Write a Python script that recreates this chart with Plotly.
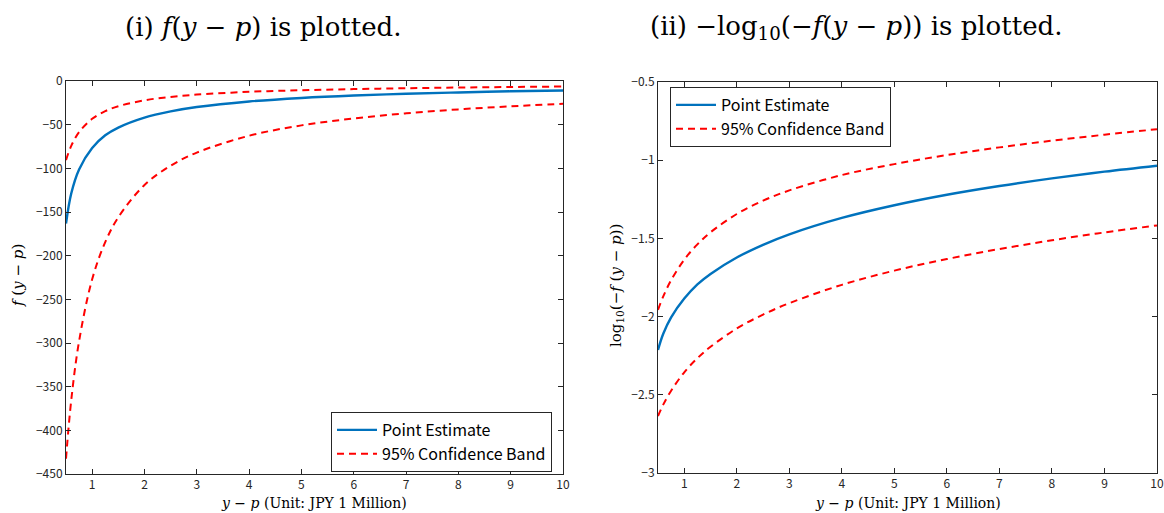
import plotly.graph_objects as go

# ---- data ----
x_vals = [0.5, 0.6, 0.75, 1, 1.25, 1.5, 2, 2.5, 3, 4, 5, 6, 7, 8, 9, 10]

# panel (i): f(y-p)
f_point = [-163.3, -128.8, -101.2, -76.7, -62.2, -53.3, -41.9, -34.8, -29.8, -23.4, -19.4, -16.6, -14.6, -13.1, -11.8, -10.8]
f_upper = [-90.6, -74.3, -58.5, -43.3, -34.5, -28.9, -22.1, -18.2, -15.6, -12.4, -10.6, -9.27, -8.28, -7.50, -6.87, -6.34]
f_lower = [-432.5, -365.6, -297.9, -227.0, -184.5, -156.0, -119.1, -97.0, -82.0, -62.7, -50.8, -42.9, -37.0, -32.5, -29.0, -26.1]

# panel (ii): -log10(-f(y-p))
g_point = [-2.213, -2.110, -2.005, -1.885, -1.794, -1.727, -1.622, -1.541, -1.474, -1.369, -1.288, -1.221, -1.165, -1.116, -1.073, -1.035]
g_upper = [-1.957, -1.871, -1.767, -1.636, -1.538, -1.461, -1.344, -1.259, -1.193, -1.095, -1.025, -0.967, -0.918, -0.875, -0.837, -0.802]
g_lower = [-2.636, -2.563, -2.474, -2.356, -2.266, -2.193, -2.076, -1.987, -1.914, -1.797, -1.706, -1.632, -1.568, -1.512, -1.462, -1.417]

x_ticks = [1, 2, 3, 4, 5, 6, 7, 8, 9, 10]
y1_ticks = [0, -50, -100, -150, -200, -250, -300, -350, -400, -450]
y2_ticks = [-0.5, -1, -1.5, -2, -2.5, -3]

BLUE = "#0072BD"
RED = "#FF0000"
AX = "#262626"
SANS = "Noto Sans CJK JP, Liberation Sans, Arial"
TICKFONT = dict(family=SANS, size=12, color=AX)
SERIF = "DejaVu Serif, Liberation Serif, serif"

fig = go.Figure()

def add_series(xa, ya, legend, yp, yu, yl):
    fig.add_trace(go.Scatter(x=x_vals, y=yp, xaxis=xa, yaxis=ya, mode="lines",
                             line=dict(color=BLUE, width=2.4, shape="spline", smoothing=1),
                             name="Point Estimate", legend=legend))
    fig.add_trace(go.Scatter(x=x_vals, y=yu, xaxis=xa, yaxis=ya, mode="lines",
                             line=dict(color=RED, width=2, dash="7px,5px", shape="spline", smoothing=1),
                             name="95% Confidence Band", legend=legend))
    fig.add_trace(go.Scatter(x=x_vals, y=yl, xaxis=xa, yaxis=ya, mode="lines",
                             line=dict(color=RED, width=2, dash="7px,5px", shape="spline", smoothing=1),
                             name="95% Confidence Band", legend=legend, showlegend=False))

add_series("x", "y", "legend", f_point, f_upper, f_lower)
add_series("x2", "y2", "legend2", g_point, g_upper, g_lower)

W, H = 1164, 513
def dom_x(a, b):
    return [a / W, b / W]
def dom_y(top, bottom):
    return [(H - bottom) / H, (H - top) / H]
def px(x):
    return x / W
def py(y):
    return (H - y) / H

axis_common = dict(showline=True, mirror="ticks", linecolor=AX, linewidth=1,
                   ticks="inside", ticklen=5, tickcolor=AX, tickwidth=1,
                   showgrid=False, zeroline=False, tickfont=TICKFONT, automargin=False)

fig.update_layout(
    width=W, height=H, margin=dict(l=0, r=0, t=0, b=0),
    paper_bgcolor="white", plot_bgcolor="white",
    xaxis=dict(domain=dom_x(66, 563), range=[0.5, 10], tickvals=x_ticks,
               anchor="y", **axis_common),
    yaxis=dict(domain=dom_y(81, 474), range=[-450, 0], tickvals=y1_ticks,
               ticktext=[str(v).replace("-", "−") for v in y1_ticks],
               anchor="x", **axis_common),
    xaxis2=dict(domain=dom_x(658, 1157), range=[0.5, 10], tickvals=x_ticks,
                anchor="y2", **axis_common),
    yaxis2=dict(domain=dom_y(82, 473), range=[-3, -0.5], tickvals=y2_ticks,
                ticktext=["−0.5", "−1", "−1.5", "−2", "−2.5", "−3"],
                anchor="x2", **axis_common),
    legend=dict(x=px(552), y=py(412), xanchor="right", yanchor="top",
                bgcolor="white", bordercolor=AX, borderwidth=1,
                font=dict(family=SANS, size=16, color="black"),
                tracegroupgap=0, itemwidth=40),
    legend2=dict(x=px(670), y=py(87), xanchor="left", yanchor="top",
                 bgcolor="white", bordercolor=AX, borderwidth=1,
                 font=dict(family=SANS, size=16, color="black"),
                 tracegroupgap=0, itemwidth=40),
)

annots = [
    dict(text="(i) <i>f</i>(<i>y</i> − <i>p</i>) is plotted.", x=px(263), y=py(27),
         size=26, angle=0),
    dict(text="(ii) −log<sub>10</sub>(−<i>f</i>(<i>y</i> − <i>p</i>)) is plotted.", x=px(856), y=py(27),
         size=26, angle=0),
    dict(text="<i>y</i> − <i>p</i> (Unit: JPY 1 Million)", x=px(314), y=py(503), size=14, angle=0),
    dict(text="<i>y</i> − <i>p</i> (Unit: JPY 1 Million)", x=px(908), y=py(503), size=14, angle=0),
    dict(text="<i>f</i> (<i>y</i> − <i>p</i>)", x=px(18), y=py(276), size=15, angle=-90),
    dict(text="log<sub>10</sub>(−<i>f</i> (<i>y</i> − <i>p</i>))", x=px(616), y=py(286), size=15, angle=-90),
]
fig.update_layout(annotations=[
    dict(text=a["text"], x=a["x"], y=a["y"], xref="paper", yref="paper",
         xanchor="center", yanchor="middle", showarrow=False, textangle=a["angle"],
         font=dict(family=SERIF, size=a["size"], color="black"))
    for a in annots
])

fig.write_html("out.html")
